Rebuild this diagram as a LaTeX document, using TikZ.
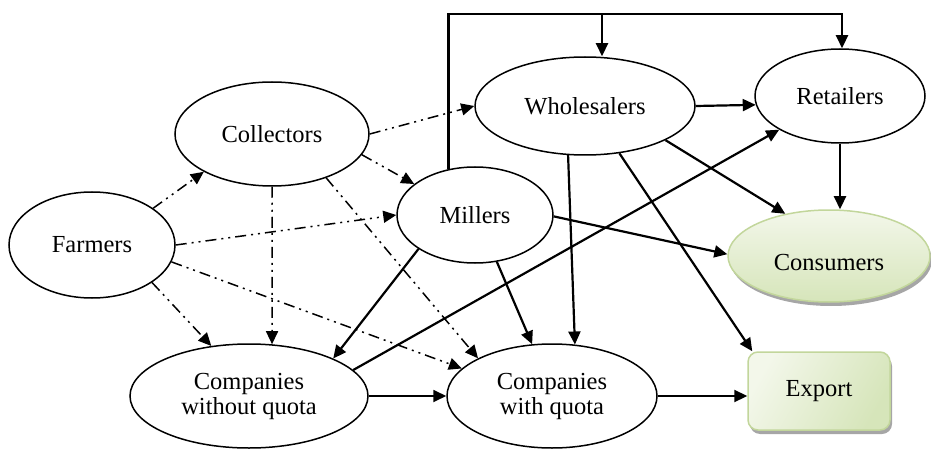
\documentclass[tikz,border=0pt]{standalone}
\usepackage{fontspec}
\setmainfont{Liberation Serif}
\usetikzlibrary{shapes.geometric,arrows.meta,shadows}
\definecolor{gborder}{HTML}{C2D69B}
\definecolor{glight}{HTML}{F3F7EA}
\definecolor{gdark}{HTML}{D6E5BA}
\tikzset{
  ell/.style={ellipse, draw, line width=1.5pt, inner sep=0pt, align=center,
    font=\fontsize{24.5}{25}\selectfont},
  dd/.style={line width=1.5pt, dash pattern=on 11pt off 5pt on 2pt off 5pt on 2pt off 5pt,
    -{Triangle[length=13pt,width=12pt]}},
  sol/.style={line width=2.2pt, -{Triangle[length=13pt,width=12pt]}},
  shadowed/.style={drop shadow={shadow xshift=2pt, shadow yshift=-4pt, fill=black!35, opacity=1}}
}
\begin{document}
\begin{tikzpicture}[x=1pt,y=-1pt]
\useasboundingbox (0,0) rectangle (931,449);
% nodes
\node[ell, minimum width=166pt, minimum height=106pt] (F) at (92,245) {Farmers};
\node[ell, minimum width=194pt, minimum height=104pt] (C) at (272,134) {Collectors};
\node[ell, minimum width=156pt, minimum height=96pt] (M) at (475,215) {Millers};
\node[ell, minimum width=220pt, minimum height=98pt] (H) at (585,106) {Wholesalers};
\node[ell, minimum width=170pt, minimum height=94pt] (R) at (840,96) {Retailers};
\node[ell, draw=gborder, top color=glight, bottom color=gdark, shadowed,
      minimum width=202pt, minimum height=92pt,
      label={[yshift=-7pt, font=\fontsize{24.5}{25}\selectfont]center:Consumers}] (N) at (829,256) {};
\node[ell, minimum width=238pt, minimum height=104pt] (W) at (249,396) {Companies\\without quota};
\node[ell, minimum width=210pt, minimum height=104pt] (Q) at (552,396) {Companies\\with quota};
\node[draw=gborder, line width=1.5pt, rounded corners=10pt, left color=glight, right color=gdark,
      shading angle=60, shadowed, minimum width=142pt, minimum height=78pt,
      font=\fontsize{24.5}{25}\selectfont] (E) at (819,391) {Export};
% dash-dot-dot connectors
\draw[dd] (F.31) -- (C.-151);
\draw[dd] (F.0) -- (M.180);
\draw[dd] (F.-32) -- (W.127);
\draw[dd] (F.-12) -- (Q.163);
\draw[dd] (C.-90) -- (W.66);
\draw[dd] (C.-39) -- (Q.153);
\draw[dd] (C.-13) -- (M.153);
\draw[dd] (C.0) -- (H.180);
% solid connectors
\coordinate (tr) at (842,14);
\coordinate (hb) at (602,14);
\draw[sol] (M.120) |- (tr) -- (tr |- R.north);
\draw[sol] (hb) -- (hb |- H.north);
\draw[sol] (M.-149) -- (W.24);
\draw[sol] (M.-65) -- (Q.111);
\draw[sol] (M.-1) -- (N.179);
\draw[sol] (H.0) -- (R.186);
\draw[sol] (H.-23) -- (N.136);
\draw[sol] (H.-109) -- (Q.66);
\draw[sol] (H.-54.5) -- ([xshift=5pt]E.north west);
\draw[sol] (R.south) -- (R.south |- N.north);
\draw[sol] (W.14) -- (R.209);
\draw[sol, line width=1.8pt] (W.east) -- (Q.west);
\draw[sol] (Q.east) -- (E.west |- Q.east);
\end{tikzpicture}
\end{document}
